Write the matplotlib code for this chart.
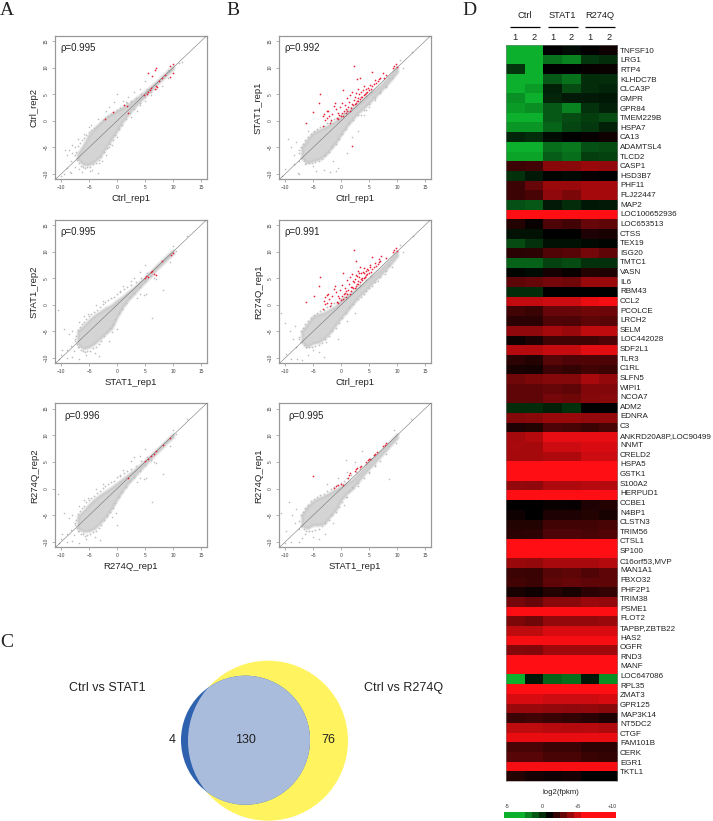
import numpy as np
import matplotlib
matplotlib.use("Agg")
import matplotlib.pyplot as plt
from matplotlib.colors import LinearSegmentedColormap
from matplotlib.patches import Circle

plt.rcParams["font.family"] = ["Liberation Sans", "DejaVu Sans"]

W, H = 713, 821

# ---- scatter data (log2 fpkm)
cloud_x = [-7, -6, -5, -4, -3, -2, -1, 0, 1, 2, 3, 4, 5, 6, 7, 8, 9, 10]

# stragglers round the dense cloud, left column and right column
a_edge_x = [-7.5, -7.3, -7.2, -7, -6.9, -6.7, -6.5, -6.3, -6.1, -5.9, -5.7, -5.5, -5.3, -5.1, -4.8, -4.6, -4.3, -4.1, -3.8, -3.6, -3.3, -3.1, -2.8, -2.6, -2.3, -2.1, -1.8, -1.6, -1.3, -1.1, -0.8, -0.5, -0.3, 0, 0.3, 0.5, 0.8, 1.2, 1.5, 1.8, 2.3, 2.5, 3, 3.3, 4, 4.3, 5, 5.3, 6]
a_edge_y = [-6.5, -5.8, -7.4, -4.8, -7.9, -4.2, -8.5, -3.6, -8.6, -3.2, -8.8, -2.6, -8.7, -2.2, -8.6, -1.8, -8.2, -1.3, -7.9, -0.9, -7.3, -0.4, -6.9, 0.1, -5.9, 0.5, -5.2, 0.9, -4.4, 1.2, -3.6, 1.5, -2.7, 2.1, -1.5, 2.4, -0.7, 2.9, 0.3, 3.3, 1.4, 3.7, 2.2, 4.3, 3.3, 5.1, 4.4, 6, 5.4]
b_edge_x = [-7.5, -7.2, -7.1, -6.9, -6.7, -6.4, -6.2, -5.9, -5.7, -5.4, -5.2, -4.9, -4.6, -4.3, -4, -3.7, -3.4, -3.1, -2.8, -2.5, -2.2, -1.9, -1.6, -1.3, -1, -0.7, -0.4, -0.1, 0.2, 0.5, 0.8, 1.1, 1.4, 1.8, 2.2, 2.6, 3, 3.4, 4, 4.4, 5, 5.4, 6, 7, 8]
b_edge_y = [-6, -5, -7, -4.3, -7.6, -3.6, -8, -3, -8, -2.4, -7.9, -2, -7.8, -1.6, -7.5, -1.2, -7.1, -1, -6.5, -0.4, -5.8, 0, -5, 0.3, -4.4, 0.6, -3.5, 1, -2.5, 1.5, -1.5, 2, -0.5, 2.6, 0.2, 3.2, 1, 3.7, 2, 4.6, 3.1, 5.5, 4.2, 5.2, 6.4]

a1_lo = [-7.2, -8.2, -8.2, -7.6, -6.6, -5.0, -3.4, -1.8, -0.1, 1.3, 2.5, 3.6, 4.7, 5.7, 6.8, 7.8, 8.8, 9.8]
a1_hi = [-6.2, -4.6, -2.6, -1.4, -0.4, 0.6, 1.3, 1.9, 2.5, 3.1, 3.9, 4.7, 5.5, 6.4, 7.3, 8.3, 9.3, 10.2]
a1_gray_x = [-9.3, -9, -8.6, -8.3, -8, -8, -7.5, -7.5, -7.2, -7, -6.8, -9, -8.5, -10, -9.5, -8.2, -6.2, -4.8, -4.5, -3.5, -3.2, -2.7, -2, -1.5, -1, 0, -5, -6, -4.6, -3.5, -2, -1.5, 0, -0.5, 1, 1.5, 2, 3, 4, 5, 4, 5, 6, 7, 8, 9, 9, 11, 11.5, 3.5, 2.5]
a1_gray_y = [-5.5, -6.5, -5.5, -7.5, -4.5, -6, -8.7, -5, -7, -3.5, -9, -8.8, -9.7, -10.3, -10.1, -9.8, -9.7, -9.5, -9.2, -9.8, -8, -7.5, -6.5, -5, -4.5, -3, -1.2, -2.5, -0.8, 0.3, 1.8, 2.5, 5, 3.5, 3.8, 3.5, 4.5, 5.5, 6, 7.5, 3, 3.7, 4.8, 6, 6.5, 8, 9.5, 10.8, 11, 1.8, 0.8]
a1_red_x = [5.5, 6.7, 6.3, 7, 9.5, 10, 10, 9.5, 8.5, 8, 5.8, 5.6, 6, 5.3, 7, 7.2, 6.8, 7.5, 4.8, 2, 1.7, 1.2, -0.8, -2.2]
a1_red_y = [9, 9.5, 8.5, 10, 10.3, 10.7, 9, 8.2, 8.6, 8, 5.8, 5.5, 6.2, 5, 6.5, 6.3, 6, 7.5, 4.9, 1.5, 2.8, 3, 1.6, 0.3]

a2_lo = [-7.4, -8.2, -7.9, -7.2, -6.3, -5.3, -4.4, -2.2, -0.4, 1.0, 2.1, 3.3, 4.4, 5.5, 6.7, 7.7, 8.7, 9.7]
a2_hi = [-5.0, -4.0, -2.9, -2.0, -1.3, -0.6, -0.1, 0.8, 1.5, 2.4, 3.2, 4.2, 5.1, 6.2, 7.3, 8.3, 9.3, 10.2]
a2_gray_x = [-10.5, -10, -9.5, -9, -8.6, -8.2, -8, -7.7, -7.5, -7, -6.8, -10.4, -9.8, -9, -8, -6.8, -5.5, -4, -3.2, -1.5, 0, -1, -5.2, -6, -3.8, -2.5, 0.5, 1, 2.5, 3, 4, 5, 6.5, 8.2, 6.3, 5.2, 9.5, 10, 12.5, 10.5, 3.5, 4, 7, 4.8]
a2_gray_y = [-1, -9.4, -4.6, -8.5, -5.5, -7.8, -5, -8.7, -6.8, -8, -3.3, -10.2, -8.5, -10, -9.8, -10.2, -9.5, -9, -9.6, -6.8, -4.5, -5.2, -1.8, -2.2, 0, 0.8, 2.5, 3.5, 4.5, 5, 6.2, 7.5, 5, 2.8, -2.5, 2, 8, 11, 13, 10.2, 1.2, 2, 4.8, 1.8]
a2_red_x = [5.2, 5.5, 6.5, 7, 9.6, 10, 8, 6, 5, 6.3]
a2_red_y = [5.4, 5.3, 5.8, 5.6, 9.3, 9.8, 8.3, 6.2, 5.1, 6.4]

a3_lo = [-7.4, -8.0, -7.9, -7.4, -6.4, -5.2, -3.7, -1.9, -0.3, 1.1, 2.2, 3.4, 4.5, 5.6, 6.7, 7.7, 8.8, 9.7]
a3_hi = [-5.2, -4.2, -3.0, -2.0, -1.2, -0.5, 0.2, 1.0, 1.8, 2.6, 3.4, 4.3, 5.2, 6.2, 7.2, 8.2, 9.2, 10.2]
a3_gray_x = [-10.5, -10, -9.5, -9, -8.6, -8.2, -8, -7.7, -7.5, -7, -6.8, -10.4, -9.8, -9, -8, -6.8, -5.5, -4, -3, 0, -0.2, -1, -5.2, -6, -3.8, -2.5, 0.5, 1, 2.5, 3, 4, 5, 6.5, 8.2, 6.3, 5.2, 9.5, 10, 12.5, 10.5, 3.5, 4, 7, 4.8]
a3_gray_y = [-1, -9.4, -4.6, -8.5, -5.5, -7.8, -5, -8.7, -6.8, -8, -3.3, -10.2, -8.5, -10, -9.8, -10.2, -9.5, -9, -9.6, -6.8, -4.5, -5.4, -1.8, -2.2, 0, 0.8, 2.5, 3.5, 5.2, 6, 6.2, 7.5, 5, 2.8, -2.5, 2, 8, 11, 13, 10.2, 1.2, 2, 4.8, 1.8]
a3_red_x = [6, 6.5, 9.5, 5.5, 7, 2, 5, 8.2]
a3_red_y = [6.1, 6.4, 9.4, 5.6, 7, 2, 5.1, 8.2]

b1_lo = [-7.0, -7.8, -7.5, -7.2, -6.6, -5.4, -4.1, -2.5, -1.0, 0.3, 1.5, 2.4, 3.4, 4.5, 5.6, 6.7, 7.9, 9.2]
b1_hi = [-5.0, -3.5, -2.3, -1.8, -1.3, -0.7, -0.1, 0.8, 1.6, 2.3, 3.0, 4.0, 5.0, 5.8, 6.6, 7.7, 8.8, 10.1]
b1_gray_x = [-9.5, -9, -8.5, -8, -7.5, -7.5, -7.7, -7.5, -5, -4.5, -3, -2, -1, -0.5, -1.5, 1, 2, 3, 4, 5, 6, 7, 8, 9, 11, 8.5, 3.5, 4.5, -10.5, -10, -8.5, -6.5, -6, 10.5, 12.7]
b1_gray_y = [-3.5, -5, -6.5, -4, -7.5, -5.5, -9.8, -10, -8.5, -9.5, -9.2, -9.7, -9.5, -8.8, -7.5, -6, -3, -2, 1, 2.5, 4, 5.5, 6.5, 8, 10, 8, 1, 2, -10.3, -9, -8.2, -8.2, -2, 11.5, 13]
b1_red_x = [-6.3, -5, -3.9, -3.8, -3.3, -3.2, -3, -2.9, -2.6, -2.4, -2.5, -2.2, -2, -1.8, -1.6, -1.2, -1.1, -0.9, -0.8, -0.6, -0.5, -0.3, -0.2, 0, 0.1, 0.2, 0.3, 0.4, 0.5, 0.6, 0.8, 0.9, 1, 1.1, 1.3, 1.4, 1.5, 1.6, 1.8, 1.9, 2, 2.1, 2.3, 2.3, 2.4, 2.5, 2.6, 2.7, 2.8, 2.9, 3, 3, 3.1, 3.2, 3.4, 3.4, 3.5, 3.6, 3.8, 3.9, 4, 4.1, 4.2, 4.4, 4.5, 4.7, 4.8, 5, 5.2, 5.3, 5.5, 5.6, 5.8, 6, 6.2, 6.5, 6.8, 7, 7.4, 7.6, 8, 9.2, 9.5, 9.8, 10, 1.9]
b1_red_y = [-0.5, 1.6, 3.3, 5, -0.9, 0.9, 1.2, 0.2, 1.8, 1.8, 0.6, 0.9, -0.4, 0.2, 1.3, 2.8, 3.4, 2.2, 0.5, 1.4, 0.3, 1, 2.6, 0.9, 3.4, 1.5, 5.8, 0.9, 1.9, 3, 1.4, 2.3, 4.3, 1.8, 2.6, 3.6, 1.9, 4.9, 2.4, 3.1, 5.5, 2.9, 10.4, 3.9, 3.1, 4.5, 3.4, 5.2, 7.9, 3.7, 6, 4.2, 3.8, 5, 8.1, 4.1, 5.5, 4.5, 4.4, 5.8, 4.9, 6.5, 5, 5.3, 5.9, 5.5, 6.2, 5.8, 6.8, 6, 9.1, 6.5, 6.9, 7.6, 7.1, 7.4, 7.8, 8, 8.9, 8.1, 8.7, 10, 10.3, 10.7, 10.2, -4.8]

b2_lo = [-7.0, -7.8, -7.2, -7.0, -6.3, -5.2, -3.8, -2.4, -1.2, 0.1, 1.4, 2.4, 3.5, 4.6, 5.6, 6.7, 7.9, 9.2]
b2_hi = [-5.0, -3.6, -2.2, -1.8, -1.5, -0.9, -0.3, 0.8, 1.6, 2.3, 3.2, 4.0, 4.9, 5.8, 6.7, 7.7, 8.8, 10.0]
b2_gray_x = [-10.8, -10, -9.8, -9.2, -8.6, -8.2, -8, -7.5, -7, -6, -5, -4, -3, -2.7, -0.5, 1, 2.5, 3.5, 4.5, 5.5, 6.5, 7.8, 9, 11, 12.8, -9, -7.8, -6.3, 10.5, 8.5]
b2_gray_y = [-1.5, -3.5, -9.3, -5, -6.5, -4, -8, -6.5, -10.3, -9.5, -8.5, -8.8, -9.8, -7, -6.5, -3, -1.5, 1.5, 2.5, 3.5, 4.5, 5.8, 7.2, 10, 13, -10.2, -10.2, -8, 11.2, 7.5]
b2_red_x = [-6.3, -4.9, -3.9, -3.7, -3.3, -3.1, -2.9, -2.8, -2.6, -2.4, -2.5, -2.2, -2, -1.8, -1.6, -1.2, -1.1, -0.9, -0.8, -0.6, -0.5, -0.3, -0.2, 0, 0.1, 0.2, 0.3, 0.4, 0.5, 0.6, 0.8, 0.9, 1, 1.1, 1.3, 1.4, 1.5, 1.6, 1.8, 1.9, 2, 2.1, 2.3, 2.3, 2.4, 2.5, 2.6, 2.7, 2.7, 2.9, 3, 3, 3.1, 3.2, 3.3, 3.4, 3.5, 3.6, 3.8, 3.9, 4, 4.1, 4.2, 4.4, 4.5, 4.7, 4.8, 5, 5.2, 5.3, 5.5, 5.6, 5.8, 6, 6.2, 6.5, 6.8, 7, 7.2, 6.8, 8, 9.2, 9.5, 9.8, 10, 2.8, 3.2, 3.7, 4.1, 4.3, 4.6, 5.1, 1.7, 2.2, 0.7]
b2_red_y = [0.5, 1.7, 3.5, 5.2, -0.7, 0.8, 1.4, 0.1, 1.9, 2.1, 0.4, 1, -0.3, 0.3, 1.6, 2.9, 3.6, 2.4, 0.6, 1.7, 0.4, 1.2, 2.8, 0.9, 3.8, 1.6, 5.9, 1, 2.1, 3.2, 1.5, 2.6, 4.6, 2, 2.7, 3.9, 2, 5.2, 2.5, 3.4, 5.8, 3.1, 10.4, 4.2, 3.2, 4.8, 3.6, 5.6, 8.3, 3.9, 6.4, 4.5, 4, 5.2, 7.2, 4.3, 6, 4.8, 4.6, 6.2, 5, 7, 5.2, 5.6, 6.4, 5.8, 6.6, 6, 7.2, 6.2, 9, 6.8, 7.2, 7.9, 7.3, 7.6, 8, 8.2, 9.2, 8.7, 8.8, 10, 10.3, 10.6, 10.2, 5.4, 6, 5, 6, 5.2, 6.8, 7.5, 3.4, 4.4, 2.3]

b3_lo = [-7.0, -7.4, -6.8, -6.8, -6.5, -5.2, -4.0, -2.1, -0.9, 0.0, 1.3, 2.6, 3.8, 4.9, 6.1, 7.2, 8.4, 9.5]
b3_hi = [-5.0, -3.4, -2.4, -1.8, -1.4, -0.8, -0.2, 0.4, 1.0, 1.6, 2.7, 3.7, 5.1, 6.0, 6.9, 8.0, 9.1, 10.2]
b3_gray_x = [-10.8, -10, -9.8, -9.3, -8.8, -8.3, -8, -7.6, -7, -6.5, -5, -4, -2.8, -1.5, 0.5, 1, 2, 3, 5, 6, 8.5, 0.8, 3.8, 9.5, 9.8, 12.5, -9, -7.5, -2.5, -0.5, 1, 2.5]
b3_gray_y = [-4.5, -10.2, -8, -2.5, -5, -6.5, -3.8, -7.5, -9.3, -8.5, -9, -9.5, -8.5, -6.5, -3, -1.5, 0.3, 0.5, 3, 4.5, 1.8, 5.3, 7, 11, 8.5, 13, -10, -10, 0.8, 2, 3.2, 5]
b3_red_x = [-1.2, -1, -0.6, 0, 0.3, 1.4, 1.6, 2.4, 2.6, 3.3, 3.6, 4.5, 4.8, 5, 5.8, 6, 6.4, 7.5, 7.8, 8, 5.2, 1.2, 2.9, -5]
b3_red_y = [0.2, 0.4, 0.6, 0.8, 0.7, 2.5, 2.9, 3.3, 3.6, 4, 4.3, 5, 5.3, 5.6, 6.3, 6.5, 6.9, 8, 8.2, 8.5, 5.5, 1.9, 3.8, 2.4]

rho_labels = ["ρ=0.995", "ρ=0.995", "ρ=0.996", "ρ=0.992", "ρ=0.991", "ρ=0.995"]
x_names = ["Ctrl_rep1", "STAT1_rep1", "R274Q_rep1", "Ctrl_rep1", "Ctrl_rep1", "STAT1_rep1"]
y_names = ["Ctrl_rep2", "STAT1_rep2", "R274Q_rep2", "STAT1_rep1", "R274Q_rep1", "R274Q_rep1"]
scatter_ticks = [-10, -5, 0, 5, 10, 15]

# ---- venn counts
venn_only_stat1 = 4
venn_both = 130
venn_only_r274q = 76

# ---- heatmap
genes = ["TNFSF10", "LRG1", "RTP4", "KLHDC7B", "CLCA3P", "GMPR", "GPR84", "TMEM229B", "HSPA7", "CA13",
         "ADAMTSL4", "TLCD2", "CASP1", "HSD3B7", "PHF11", "FLJ22447", "MAP2", "LOC100652936", "LOC653513",
         "CTSS", "TEX19", "ISG20", "TMTC1", "VASN", "IL6", "RBM43", "CCL2", "PCOLCE", "LRCH2", "SELM",
         "LOC442028", "SDF2L1", "TLR3", "C1RL", "SLFN5", "WIPI1", "NCOA7", "ADM2", "EDNRA", "C3",
         "ANKRD20A8P,LOC90499", "NNMT", "CRELD2", "HSPA5", "GSTK1", "S100A2", "HERPUD1", "CCBE1", "N4BP1",
         "CLSTN3", "TRIM56", "CTSL1", "SP100", "C16orf53,MVP", "MAN1A1", "FBXO32", "PHF2P1", "TRIM38", "PSME1",
         "FLOT2", "TAPBP,ZBTB22", "HAS2", "OGFR", "RND3", "MANF", "LOC647086", "RPL35", "ZMAT3", "GPR125",
         "MAP3K14", "NT5DC2", "CTGF", "FAM101B", "CERK", "EGR1", "TKTL1"]
ctrl_1 = [-3, -3, -0.2, -3, -3, -2.3, -2.5, -3, -2.4, 0.2, -3, -2.7, 2.2, -0.1, 2.2, 2.2, -0.8, 6, 1.7, 0.6, -0.7, 1.8, -1.2, 0.9, 2.8, 0, 4.8, 2.3, 1.8, 3.8, 1.3, 4.6, 1.9, 1.5, 3.2, 2.9, 2.9, 0, 3.6, 1.6, 4.2, 4.3, 4.2, 6, 6, 3.9, 6, 1, 1.3, 1.7, 1.8, 6, 6, 4, 2.2, 2.3, 1.5, 3.3, 5.9, 3.4, 4.7, 5.8, 3.6, 6, 6, -3, 6, 5.2, 4, 2.2, 4.7, 5.6, 2.4, 2.7, 5.8, 1.7]
ctrl_2 = [-3, -3, -3, -3, -2.5, -3, -2.2, -3, -2.4, 0, -3, -2.7, 2.3, 0.4, 3, 2.4, -1, 6, 1.2, 0.6, -0.1, 1.9, -1.2, 0.7, 3, 0, 4.8, 2.1, 1.8, 3.8, 1.6, 4.6, 1.7, 1.4, 3.4, 2.9, 2.8, 0, 3.7, 1.7, 4.5, 4.2, 4.2, 6, 6, 3.8, 6, 1, 1, 1.7, 1.9, 6, 6, 3.9, 2.1, 2.2, 1.3, 3, 5.9, 3.2, 4.7, 5.8, 3.5, 6, 6, 0.5, 6, 5.2, 4, 2.3, 4.7, 5.6, 2.4, 2.7, 5.8, 1.4]
stat1_1 = [1, -1.6, 1, -1, 0.3, 0.2, -1, -1, -1.3, 0.7, -1.5, -1.1, 3.7, 0.9, 4, 3.8, 0.4, 6, 2.5, 1, 0.6, 2.6, -0.5, 1.4, 3.3, 1, 5, 3, 2.6, 4.2, 2.3, 4.9, 2.7, 2.2, 3.6, 3, 3.3, 0.3, 4, 2.5, 5.5, 5, 4.4, 6, 6, 4.4, 6, 1.2, 1.6, 2.3, 2.5, 6, 6, 4.3, 2.7, 2.9, 1.7, 3.7, 5.9, 3.9, 5.2, 5.8, 4.1, 6, 6, -1.2, 6, 5, 3.9, 2.1, 4.6, 5.6, 2.2, 2.4, 5.8, 1.3]
stat1_2 = [0.7, -2, 1, -1.6, -0.7, 0.4, -2, -0.7, -0.6, 1, -1.7, -1.5, 3.7, 0.8, 4, 3.4, 0, 6, 2.3, 1, 0.6, 2.7, -0.7, 1.2, 3.2, 1, 5, 3, 2.5, 4, 2.3, 4.9, 2.5, 2, 3.6, 2.9, 3.2, -0.1, 4, 2.4, 5.5, 5, 4.4, 6, 6, 4.4, 6, 1.1, 1.6, 2.3, 2.5, 6, 6, 4.3, 2.8, 3, 1.5, 3.7, 5.9, 3.9, 5.2, 5.8, 4.1, 6, 6, -1.5, 6, 5, 3.8, 2, 4.5, 5.6, 2.2, 2.4, 5.8, 1.4]
r274q_1 = [1, -0.2, 1.1, 0, 0, 0.4, -0.1, -0.4, -0.3, 1.1, -0.8, -0.4, 4, 1.1, 4.2, 4.2, 0.5, 6, 3, 1.6, 0.8, 3.3, -0.1, 1.7, 4, 1, 5.6, 3.2, 2.8, 4.7, 2.3, 5.4, 2.6, 2.3, 4.3, 3.5, 3.6, 1, 3.9, 2.2, 5.5, 5.2, 5, 6, 6, 4.6, 6, 1.6, 1.7, 2.3, 2.4, 6, 6, 4.3, 2.6, 2.9, 1.8, 4, 5.9, 3.9, 5.2, 5.8, 4.1, 6, 6, 0.5, 6, 5, 3.9, 1.8, 4.6, 5.6, 1.9, 2.1, 5.8, 1]
r274q_2 = [1.3, 0, 1.2, 0, 0.2, 0.5, 0.3, -0.7, 0.3, 1.3, -0.7, -0.5, 3.9, 1, 4.2, 4.2, 0.4, 6, 2.8, 1.5, 0.9, 2.9, -0.1, 1.6, 4, 1, 5.8, 3.1, 2.7, 4.7, 2.5, 5.4, 2.5, 2.2, 3.9, 3.5, 3.7, 1, 3.9, 2.4, 5.5, 5.2, 5, 6, 6, 4.5, 6, 1.7, 1.5, 2.4, 2.6, 6, 6, 4.5, 2.8, 2.8, 2, 3.9, 5.9, 4, 5.2, 5.8, 4.1, 6, 6, -2.3, 6, 5.2, 3.7, 1.6, 4.4, 5.6, 1.9, 2, 5.8, 1]
group_names = ["Ctrl", "STAT1", "R274Q"]
cbar_values = [-5, -4, -3, -2, -1, 0, 1, 2, 3, 4, 5, 6, 7, 8, 9, 10]
cbar_ticks = [-5, 0, 5, 10]
cbar_ticklabels = ["-5", "0", "+5", "+10"]


def px_axes(fig, left, top, right, bottom):
    return fig.add_axes([left / W, 1 - bottom / H, (right - left) / W, (bottom - top) / H])


def scatter_panel(fig, box, lo, hi, edge_x, edge_y, gray_x, gray_y, red_x, red_y, rho, xname, yname, rho_x):
    ax = px_axes(fig, *box)
    # soft rim first so the dense cloud has no hard edge
    ax.fill_between(cloud_x, lo, hi, color="#c6c6c6", lw=3.0, alpha=0.35, zorder=1)
    ax.fill_between(cloud_x, lo, hi, color="#c6c6c6", lw=1.2, alpha=0.6, zorder=1)
    ax.scatter(edge_x, edge_y, s=1.8, color="#c2c2c2", lw=0, zorder=2)
    ax.scatter(gray_x, gray_y, s=1.3, color="#bbbbbb", lw=0, zorder=2)
    ax.axline((0, 0), slope=1, color="#666666", lw=0.35, zorder=3)
    ax.scatter(red_x, red_y, s=1.5, color="#e8203a", lw=0, zorder=4)
    ax.set_xlim(-11.1, 16.05)
    ax.set_ylim(-10.95, 15.95)
    ax.set_xticks(scatter_ticks)
    ax.set_yticks(scatter_ticks)
    ax.tick_params(length=2, width=0.4, color="#777777", labelsize=3.5, labelcolor="#444444", pad=2.5)
    plt.setp(ax.get_yticklabels(), rotation=90, va="center")
    for s in ax.spines.values():
        s.set_color("#999999")
        s.set_linewidth(0.9)
    ax.set_xlabel(xname, fontsize=6.8, labelpad=2.8, color="#222222")
    ax.set_ylabel(yname, fontsize=6.8, labelpad=3.5, color="#222222")
    ax.text(rho_x, 13.7, rho, fontsize=6.9, va="center", color="#222222")
    return ax


fig = plt.figure(figsize=(W / 100, H / 100), dpi=100)

col_a = (55, 207)
col_b = (279, 431)
row_1 = (36, 179)
row_2 = (220, 363)
row_3 = (403.5, 547)

scatter_panel(fig, (col_a[0], row_1[0], col_a[1], row_1[1]), a1_lo, a1_hi, a_edge_x, a_edge_y,
              a1_gray_x, a1_gray_y, a1_red_x, a1_red_y, rho_labels[0], x_names[0], y_names[0], -10.1)
scatter_panel(fig, (col_a[0], row_2[0], col_a[1], row_2[1]), a2_lo, a2_hi, a_edge_x, a_edge_y,
              a2_gray_x, a2_gray_y, a2_red_x, a2_red_y, rho_labels[1], x_names[1], y_names[1], -10.1)
scatter_panel(fig, (col_a[0], row_3[0], col_a[1], row_3[1]), a3_lo, a3_hi, a_edge_x, a_edge_y,
              a3_gray_x, a3_gray_y, a3_red_x, a3_red_y, rho_labels[2], x_names[2], y_names[2], -9.5)
scatter_panel(fig, (col_b[0], row_1[0], col_b[1], row_1[1]), b1_lo, b1_hi, b_edge_x, b_edge_y,
              b1_gray_x, b1_gray_y, b1_red_x, b1_red_y, rho_labels[3], x_names[3], y_names[3], -10.1)
scatter_panel(fig, (col_b[0], row_2[0], col_b[1], row_2[1]), b2_lo, b2_hi, b_edge_x, b_edge_y,
              b2_gray_x, b2_gray_y, b2_red_x, b2_red_y, rho_labels[4], x_names[4], y_names[4], -10.1)
scatter_panel(fig, (col_b[0], row_3[0], col_b[1], row_3[1]), b3_lo, b3_hi, b_edge_x, b_edge_y,
              b3_gray_x, b3_gray_y, b3_red_x, b3_red_y, rho_labels[5], x_names[5], y_names[5], -9.4)

# overlay in pixel coords for letters and free text
over = fig.add_axes([0, 0, 1, 1], zorder=-1)
over.set_xlim(0, W)
over.set_ylim(H, 0)
over.axis("off")

for letter, lx, ly in [("A", 0, 15), ("B", 226.5, 15), ("C", 0, 647), ("D", 462.5, 15)]:
    over.text(lx, ly, letter, fontsize=14, family="Liberation Serif", va="baseline", ha="left", color="#222222")

# venn, radii go with sqrt of the set sizes
scale = 80 / np.sqrt(venn_both + venn_only_r274q)
r_stat1 = scale * np.sqrt(venn_only_stat1 + venn_both)
r_r274q = scale * np.sqrt(venn_both + venn_only_r274q)
yellow = Circle((268, 740.7), r_r274q, fc="#fff45f", ec="none")
blue = Circle((245.5, 740.2), r_stat1, fc="#2f62ae", ec="none")
over.add_patch(yellow)
over.add_patch(blue)
inter = Circle((245.5, 740.2), r_stat1, fc="#a9bcdc", ec="none")
over.add_patch(inter)
inter.set_clip_path(Circle((268, 740.7), r_r274q, transform=over.transData))
over.text(107, 687.7, "Ctrl vs STAT1", fontsize=9, ha="center", va="center", color="#222222")
over.text(403.7, 687.7, "Ctrl vs R274Q", fontsize=9, ha="center", va="center", color="#222222")
over.text(172, 740, str(venn_only_stat1), fontsize=9, ha="center", va="center", color="#222222")
over.text(246, 740, str(venn_both), fontsize=9, ha="center", va="center", color="#222222")
over.text(328, 740, str(venn_only_r274q), fontsize=9, ha="center", va="center", color="#222222")

# heatmap
heat_cmap = LinearSegmentedColormap.from_list(
    "gbr",
    [(0, "#0cb02c"), (2 / 15, "#0cb02c"), (6 / 15, "#000000"), (11 / 15, "#ff0f14"), (1, "#ff0f14")],
)
heat = np.array([ctrl_1, ctrl_2, stat1_1, stat1_2, r274q_1, r274q_2]).T
ax_h = px_axes(fig, 506, 45, 617.3, 780.7)
ax_h.imshow(heat, aspect="auto", cmap=heat_cmap, vmin=-5, vmax=10, interpolation="nearest")
ax_h.set_xticks([])
# gene labels sit on their own slightly tighter spacing than the rows
ax_h.set_yticks([(50.3 + 9.62 * i - 45) / 9.68 - 0.5 for i in range(len(genes))])
ax_h.set_yticklabels(genes, fontsize=5.75, color="#222222")
ax_h.yaxis.tick_right()
ax_h.tick_params(axis="y", length=0, pad=2)
for s in ax_h.spines.values():
    s.set_color("#888888")
    s.set_linewidth(0.4)

for k, name in enumerate(group_names):
    cx = 525 + k * 37.5
    over.text(cx, 15.7, name, fontsize=6.7, ha="center", va="center", color="#222222")
    over.plot([cx - 15, cx + 15], [27, 27], color="black", lw=0.9, solid_capstyle="butt")
    over.text(cx - 10, 37.7, "1", fontsize=6.7, ha="center", va="center", color="#222222")
    over.text(cx + 9, 37.7, "2", fontsize=6.7, ha="center", va="center", color="#222222")

over.text(560.7, 793, "log2(fpkm)", fontsize=5.6, ha="center", va="center", color="#222222")

# colour key
ax_c = px_axes(fig, 504, 811.7, 615.7, 818)
ax_c.imshow([cbar_values], aspect="auto", cmap=heat_cmap, vmin=-5, vmax=10, interpolation="nearest",
            extent=[-5.5, 10.5, 0, 1])
ax_c.set_yticks([])
ax_c.set_xticks(cbar_ticks)
ax_c.set_xticklabels(cbar_ticklabels, fontsize=3.8, color="#333333")
ax_c.xaxis.tick_top()
ax_c.tick_params(axis="x", length=0, pad=2)
for s in ax_c.spines.values():
    s.set_visible(False)

fig.savefig("out.png", dpi=100)
